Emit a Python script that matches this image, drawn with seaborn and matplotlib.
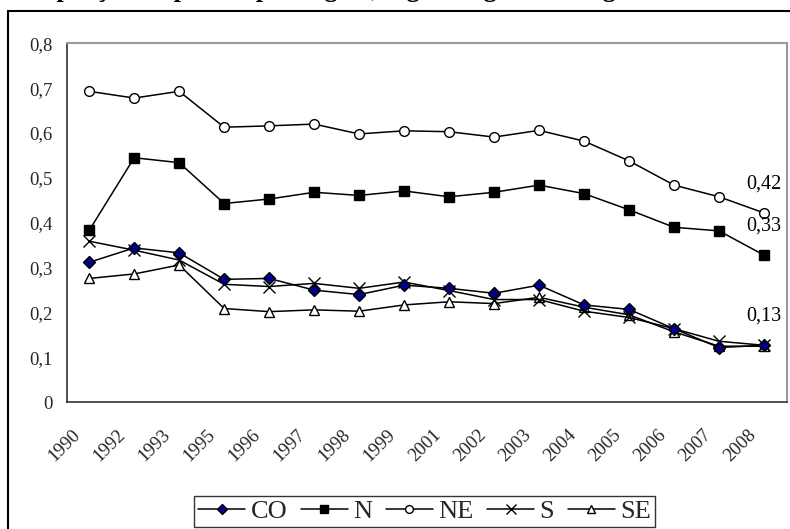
import matplotlib
matplotlib.use("Agg")
import matplotlib.pyplot as plt
from matplotlib.patches import Rectangle
from matplotlib.lines import Line2D
import matplotlib.transforms as mtransforms
import seaborn as sns
import numpy as np
import pandas as pd

years = ["1990", "1992", "1993", "1995", "1996", "1997", "1998", "1999",
         "2001", "2002", "2003", "2004", "2005", "2006", "2007", "2008"]
co = [0.312, 0.344, 0.333, 0.274, 0.276, 0.250, 0.240, 0.261,
      0.254, 0.243, 0.261, 0.217, 0.207, 0.164, 0.122, 0.127]
n = [0.383, 0.545, 0.534, 0.443, 0.453, 0.468, 0.461, 0.471,
     0.458, 0.468, 0.484, 0.465, 0.429, 0.390, 0.382, 0.328]
ne = [0.693, 0.678, 0.693, 0.613, 0.616, 0.620, 0.598, 0.605,
      0.603, 0.591, 0.606, 0.582, 0.538, 0.484, 0.458, 0.422]
s = [0.359, 0.339, 0.317, 0.263, 0.258, 0.265, 0.254, 0.268,
     0.249, 0.229, 0.229, 0.203, 0.189, 0.164, 0.136, 0.127]
se = [0.276, 0.286, 0.306, 0.209, 0.202, 0.206, 0.203, 0.217,
      0.224, 0.220, 0.234, 0.212, 0.195, 0.157, 0.125, 0.125]
series_names = ["CO", "N", "NE", "S", "SE"]
series_values = [co, n, ne, s, se]
title_text = "Proporção de pobres por região, segundo grandes regiões"

sns.set_theme(style="white")
plt.rcParams["font.family"] = ["Liberation Serif", "DejaVu Serif"]

fig = plt.figure(figsize=(7.9, 5.29), dpi=100)
ax = fig.add_axes([66.7 / 790, 1 - 402.3 / 529, (786.5 - 66.7) / 790, (402.3 - 43.3) / 529])

rows = []
for name, vals in zip(series_names, series_values):
    for i, v in enumerate(vals):
        rows.append({"pos": i, "year": years[i], "serie": name, "valor": v})
df = pd.DataFrame(rows)

styles = {
    "CO": dict(marker="D", markersize=6.5, markerfacecolor="#000080", markeredgecolor="black", markeredgewidth=1.0),
    "N": dict(marker="s", markersize=7, markerfacecolor="black", markeredgecolor="black", markeredgewidth=1.0),
    "NE": dict(marker="o", markersize=7, markerfacecolor="white", markeredgecolor="black", markeredgewidth=1.0),
    "S": dict(marker="x", markersize=9, markerfacecolor="black", markeredgecolor="black", markeredgewidth=1.0),
    "SE": dict(marker="^", markersize=7.5, markerfacecolor="white", markeredgecolor="black", markeredgewidth=1.0),
}
draw_order = ["SE", "S", "CO", "N", "NE"]
for name in draw_order:
    sub = df[df["serie"] == name]
    sns.lineplot(data=sub, x="pos", y="valor", ax=ax, color="black", linewidth=1.1,
                 label=name, legend=False, **styles[name])

# annotations of last values
for name in ["NE", "N", "CO"]:
    vals = series_values[series_names.index(name)]
    last = vals[-1]
    ax.annotate(f"{last:.2f}".replace(".", ","), xy=(len(years) - 1, last),
                xytext=(0, 21), textcoords="offset points", ha="center", va="center",
                fontsize=14.5, color="black")

ax.set_xlim(-0.5, len(years) - 0.5)
ax.set_ylim(0, 0.8)
yt = np.round(np.arange(0, 0.81, 0.1), 1)
ax.set_yticks(yt)
ax.set_yticklabels(["0" if v == 0 else f"{v:.1f}".replace(".", ",") for v in yt], fontsize=13.5)
ax.set_xticks(range(len(years)))
ax.set_xticks(np.arange(-0.5, len(years), 1.0), minor=True)
ax.tick_params(axis="x", which="major", length=0, pad=21.5)
ax.tick_params(axis="x", which="minor", length=4, width=1, color="#333333", direction="out")
ax.tick_params(axis="y", length=4, width=1, color="#333333", direction="out", pad=6)
ax.set_xticklabels(years, rotation=45, ha="right", va="center", rotation_mode="anchor", fontsize=13.5)
shift = mtransforms.ScaledTranslation(-11 / 100, 0, fig.dpi_scale_trans)
for lab in ax.get_xticklabels():
    lab.set_transform(lab.get_transform() + shift)
ax.set_xlabel("")
ax.set_ylabel("")
for side in ["left", "bottom"]:
    ax.spines[side].set_color("#333333")
    ax.spines[side].set_linewidth(1.2)
for side in ["top", "right"]:
    ax.spines[side].set_color("#9a9a9a")
    ax.spines[side].set_linewidth(1.5)

handles = []
labels = []
for name in series_names:
    st = dict(styles[name])
    st["markersize"] = st["markersize"] * 0.8
    handles.append(Line2D([], [], color="black", linewidth=1.1, **st))
    labels.append(name)
leg = fig.legend(handles, labels, loc="lower center", bbox_to_anchor=(424.5 / 790, 2 / 529),
                 ncol=5, fontsize=19, frameon=True, fancybox=False, handlelength=1.8,
                 handletextpad=0.2, columnspacing=0.5, borderpad=0.15, borderaxespad=0)
leg.get_frame().set_edgecolor("black")
leg.get_frame().set_linewidth(1.0)

# outer frame (cropped chart border)
fig.patches.append(Rectangle((8 / 790, -0.2), 1.5, (1 - 11 / 529) + 0.2, transform=fig.transFigure,
                             fill=False, edgecolor="black", linewidth=1.5))

# title, cropped at the top of the picture as in the reference
fig.text(16 / 790, 1.0 + 3.5 / 529, title_text, ha="left", va="baseline", fontsize=19,
         fontweight="bold", color="black")

fig.savefig("out.png", dpi=100)
